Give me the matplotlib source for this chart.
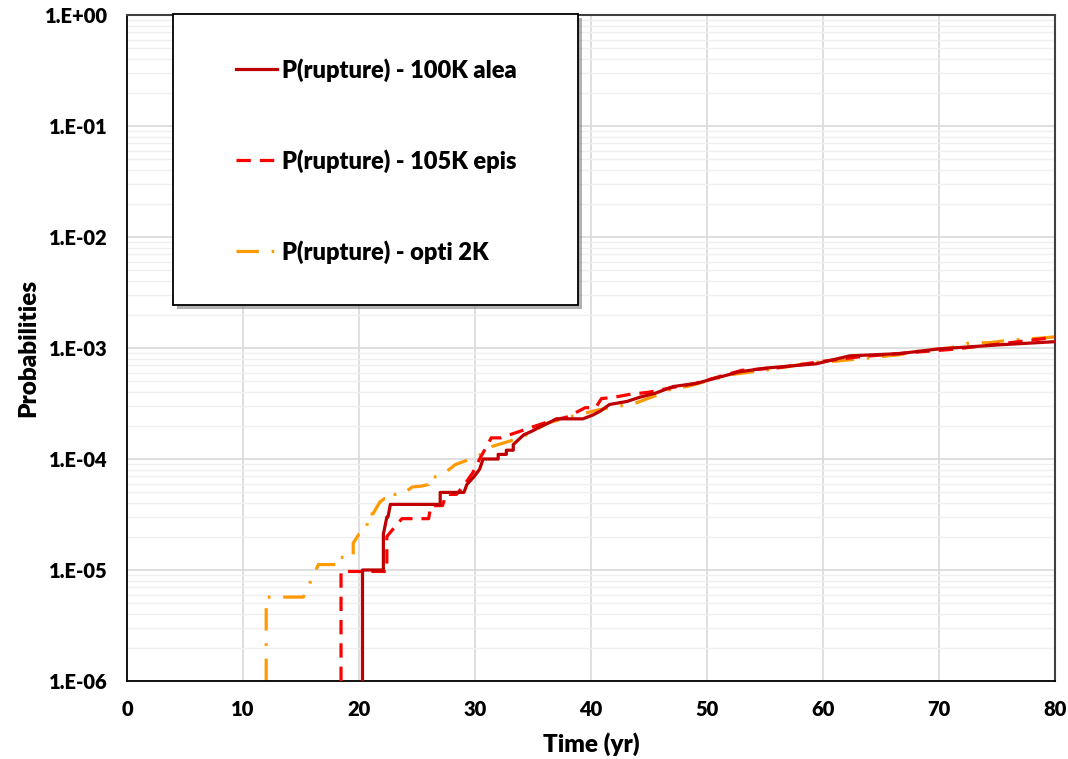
import numpy as np
import matplotlib
matplotlib.use("Agg")
import matplotlib.pyplot as plt
from matplotlib.patches import Rectangle
from matplotlib.ticker import FixedLocator, FuncFormatter, LogLocator, NullFormatter

# rupture probability vs time, three computation strategies
alea_t = [20.3, 20.3, 22.1, 22.1, 22.4, 22.5, 22.7, 27.0, 27.0, 29.05, 29.3, 29.9, 30.4,
          30.7, 32.0, 32.0, 32.7, 32.7, 33.3, 33.3, 34.2, 35.0, 35.6, 36.3, 37.0, 39.3,
          40.2, 40.8, 41.6, 43.1, 44.2, 45.5, 47.1, 49.1, 50.0, 52.8, 55.1, 59.4, 62.3,
          66.6, 69.9, 75.3, 80.0]
alea_p = [1.0e-6, 1.0e-5, 1.0e-5, 2.1e-5, 3.0e-5, 3.0e-5, 3.9e-5, 3.9e-5, 5.0e-5, 5.0e-5,
          5.9e-5, 6.9e-5, 8.1e-5, 1.0e-4, 1.0e-4, 1.1e-4, 1.1e-4, 1.2e-4, 1.2e-4, 1.35e-4,
          1.65e-4, 1.8e-4, 1.95e-4, 2.1e-4, 2.3e-4, 2.3e-4, 2.5e-4, 2.7e-4, 3.1e-4, 3.3e-4,
          3.6e-4, 3.9e-4, 4.5e-4, 4.8e-4, 5.1e-4, 6.1e-4, 6.6e-4, 7.2e-4, 8.5e-4, 8.9e-4,
          9.8e-4, 1.07e-3, 1.14e-3]

epis_t = [18.45, 18.45, 22.4, 22.4, 23.3, 23.7, 26.0, 26.2, 27.2, 27.5, 28.4, 29.0, 29.8,
          30.4, 31.0, 31.4, 32.2, 33.9, 35.0, 36.5, 38.0, 39.5, 40.4, 40.9, 42.0, 43.2,
          45.0, 47.0, 49.0, 51.0, 53.0, 56.0, 60.0, 63.0, 67.0, 71.0, 75.0, 80.0]
epis_p = [1.0e-6, 9.7e-6, 9.7e-6, 2.0e-5, 2.6e-5, 2.9e-5, 2.9e-5, 3.8e-5, 3.8e-5, 4.8e-5,
          4.8e-5, 5.7e-5, 7.5e-5, 1.0e-4, 1.3e-4, 1.55e-4, 1.55e-4, 1.78e-4, 1.95e-4, 2.2e-4,
          2.4e-4, 2.9e-4, 2.9e-4, 3.5e-4, 3.6e-4, 3.8e-4, 4.0e-4, 4.4e-4, 4.8e-4, 5.5e-4,
          6.3e-4, 6.6e-4, 7.6e-4, 8.3e-4, 9.0e-4, 9.7e-4, 1.08e-3, 1.25e-3]

opti_t = [12.0, 12.0, 15.2, 16.5, 17.2, 18.4, 18.4, 19.5, 19.5, 20.0, 20.7, 20.7, 21.2,
          21.8, 22.2, 23.1, 23.1, 23.7, 24.6, 25.4, 26.0, 26.0, 26.7, 27.6, 28.3, 29.6,
          30.5, 31.5, 33.0, 34.8, 36.2, 38.2, 40.5, 41.6, 43.7, 45.8, 47.1, 48.3, 52.0,
          55.0, 57.0, 59.0, 61.0, 62.7, 64.7, 66.6, 68.6, 70.9, 72.4, 74.4, 75.9, 78.8, 80.0]
opti_p = [1.0e-6, 5.7e-6, 5.7e-6, 1.12e-5, 1.12e-5, 1.12e-5, 1.3e-5, 1.3e-5, 1.75e-5,
          2.1e-5, 2.3e-5, 3.2e-5, 3.2e-5, 4.1e-5, 4.4e-5, 4.4e-5, 4.8e-5, 4.8e-5, 5.6e-5,
          5.7e-5, 5.9e-5, 6.9e-5, 6.9e-5, 7.8e-5, 8.9e-5, 1.0e-4, 1.1e-4, 1.3e-4, 1.45e-4,
          1.7e-4, 2.1e-4, 2.4e-4, 2.75e-4, 2.9e-4, 3.15e-4, 3.8e-4, 4.35e-4, 4.5e-4, 5.75e-4,
          6.3e-4, 6.8e-4, 7.4e-4, 7.6e-4, 7.9e-4, 8.3e-4, 8.7e-4, 9.5e-4, 1.0e-3, 1.1e-3,
          1.12e-3, 1.17e-3, 1.23e-3, 1.26e-3]

labels = ["P(rupture) - 100K alea", "P(rupture) - 105K epis", "P(rupture) - opti 2K"]
x_ticks = [0, 10, 20, 30, 40, 50, 60, 70, 80]

FONT = ["Lato", "DejaVu Sans"]

W, H = 1068, 759
fig = plt.figure(figsize=(W / 100, H / 100), dpi=100)
ax = fig.add_axes([127 / W, 1 - 681 / H, (1055 - 127) / W, (681 - 15) / H])

ax.plot(alea_t, alea_p, color="#C00000", lw=2.3, label=labels[0], zorder=4)
ax.plot(epis_t, epis_p, color="#FF0000", lw=2.3, linestyle=(0, (4.5, 2.8)),
        label=labels[1], zorder=3)
ax.plot(opti_t, opti_p, color="#FF9900", lw=2.3, linestyle=(0, (7, 4, 0.8, 4)),
        label=labels[2], zorder=2)

ax.set_yscale("log")
ax.set_xlim(0, 80)
ax.set_ylim(1e-6, 1.0)
ax.xaxis.set_major_locator(FixedLocator(x_ticks))
ax.yaxis.set_major_locator(LogLocator(base=10, numticks=10))
ax.yaxis.set_minor_locator(LogLocator(base=10, subs=np.arange(2, 10), numticks=10))
ax.yaxis.set_minor_formatter(NullFormatter())
ax.yaxis.set_major_formatter(FuncFormatter(lambda v, _: f"1.E{int(round(np.log10(v))):+03d}"))

ax.grid(True, which="major", axis="both", color="#D9D9D9", lw=1.2)
ax.grid(True, which="minor", axis="y", color="#EFEFEF", lw=1.0)
ax.set_axisbelow(True)

for side in ["left", "bottom"]:
    ax.spines[side].set_color("black")
    ax.spines[side].set_linewidth(1.3)
for side in ["top", "right"]:
    ax.spines[side].set_color("#404040")
    ax.spines[side].set_linewidth(1.5)

ax.tick_params(axis="both", which="both", length=0)
ax.tick_params(axis="x", pad=14)
ax.tick_params(axis="y", pad=14)
for lab in ax.get_xticklabels() + ax.get_yticklabels():
    lab.set_fontfamily(FONT)
    lab.set_fontweight("heavy")
    lab.set_fontsize(14.5)

ax.set_xlabel("Time (yr)", fontfamily=FONT, fontweight="heavy", fontsize=17.5, labelpad=9)
ax.set_ylabel("Probabilities", fontfamily=FONT, fontweight="heavy", fontsize=17.5, labelpad=4)

# legend box with a drop shadow, drawn in figure pixels
bx0, by0, bx1, by1 = 173, 14, 578, 305
fig.add_artist(Rectangle(((bx0 + 4) / W, 1 - (by1 + 4) / H), (bx1 - bx0) / W, (by1 - by0) / H,
                         transform=fig.transFigure, facecolor="#7F7F7F", edgecolor="none",
                         alpha=0.6, zorder=5))
fig.add_artist(Rectangle((bx0 / W, 1 - by1 / H), (bx1 - bx0) / W, (by1 - by0) / H,
                         transform=fig.transFigure, facecolor="white", edgecolor="black",
                         lw=1.3, zorder=6))
leg = fig.legend(loc="center left", bbox_to_anchor=(236 / W, 1 - 161 / H),
                 bbox_transform=fig.transFigure, frameon=False, borderpad=0,
                 borderaxespad=0, handlelength=1.75, handletextpad=0.2,
                 labelspacing=2.85, prop={"family": FONT, "weight": "heavy", "size": 17})
leg.set_zorder(7)

fig.savefig("out.png", dpi=100)
